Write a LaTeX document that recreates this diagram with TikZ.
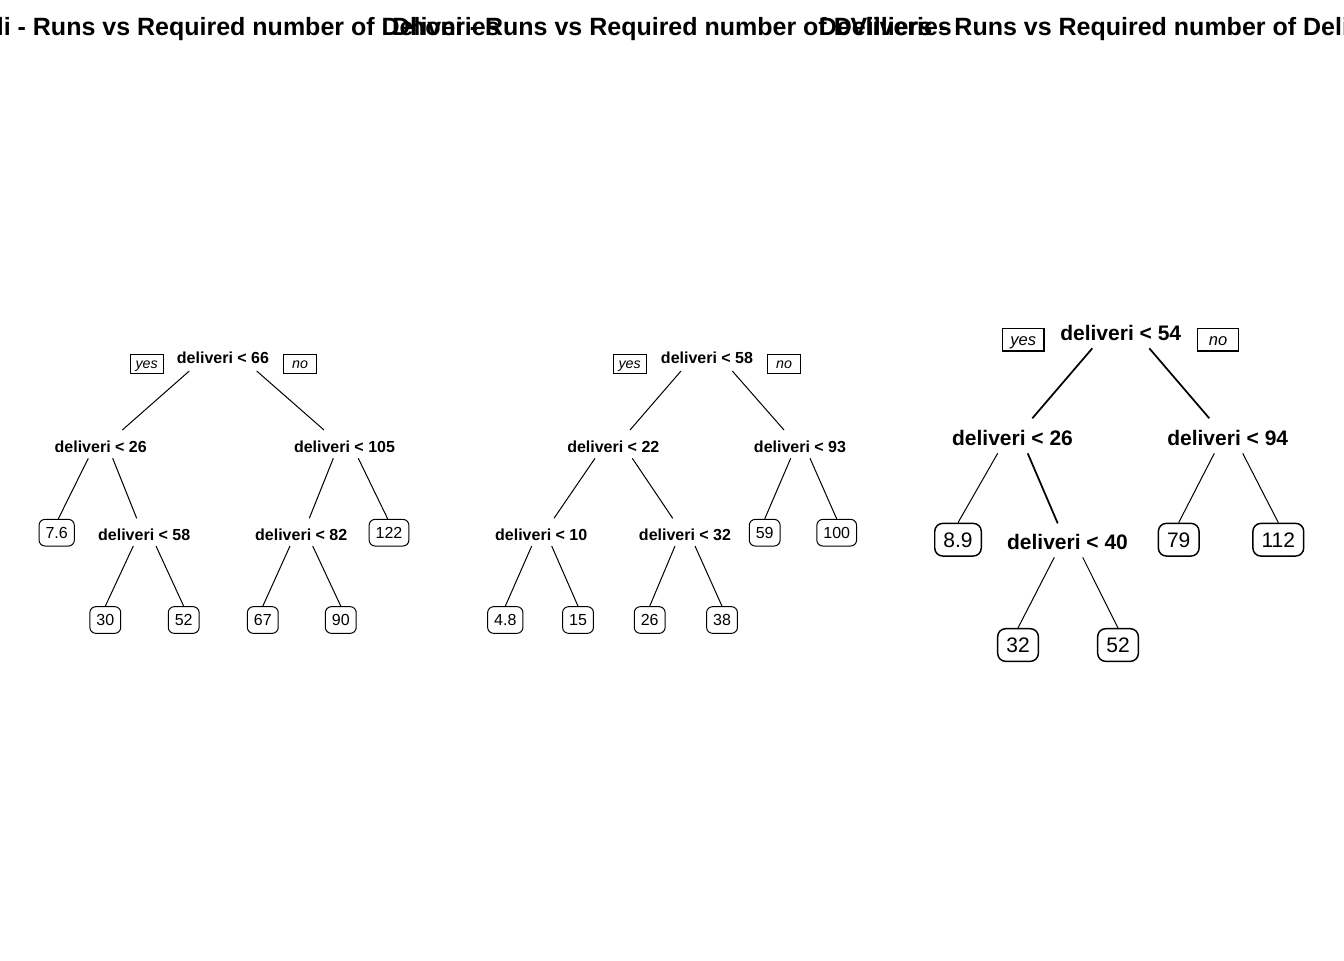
\documentclass[tikz,border=0pt]{standalone}
\usepackage{fontspec}
\setmainfont{Liberation Sans}
\begin{document}
\begin{tikzpicture}[x=0.75pt,y=-0.75pt,
  ttl/.style={font=\fontsize{18.75}{20}\bfseries\selectfont,anchor=base,inner sep=0pt},
  splA/.style={font=\fontsize{12}{14}\bfseries\selectfont,inner sep=0pt,text height=8.6pt,text depth=0pt},
  leafA/.style={draw,line width=0.75pt,rounded corners=4.5pt,font=\fontsize{12}{14}\selectfont,
    inner xsep=4.9pt,inner ysep=0pt,text height=8.6pt,text depth=0pt,minimum height=20pt},
  ynA/.style={draw,line width=0.75pt,font=\fontsize{10.7}{12}\itshape\selectfont,inner sep=0pt,
    text height=7.2pt,text depth=0pt,minimum width=25pt,minimum height=14.25pt},
  splB/.style={font=\fontsize{15.75}{18}\bfseries\selectfont,inner sep=0pt,text height=11.3pt,text depth=0pt},
  leafB/.style={draw,line width=1.1pt,rounded corners=6pt,font=\fontsize{15.75}{18}\selectfont,
    inner xsep=6.5pt,inner ysep=0pt,text height=11.3pt,text depth=0pt,minimum height=24.5pt},
  ynB/.style={draw,line width=1.1pt,font=\fontsize{12.4}{14}\itshape\selectfont,inner sep=0pt,
    text height=8pt,text depth=0pt,minimum width=31pt,minimum height=17pt},
  edA/.style={line width=0.75pt},
  edB/.style={line width=0.75pt},
  edBt/.style={line width=1.3pt}]
\useasboundingbox (0,0) rectangle (1344,960);
\clip (0,0) rectangle (1344,960);
\fill[white] (0,0) rectangle (1344,960);

% titles
\node[ttl] (t1) at (224,35) {Kohli - Runs vs Required number of Deliveries};
\node[ttl] (t2) at (672,35) {Dhoni - Runs vs Required number of Deliveries};
\node[ttl] (t3) at (1120,35) {DeVilliers - Runs vs Required number of Deliveries};

% ---------- Tree 1 ----------
\node[splA] (r1) at (223,358) {deliveri < 66};
\node[ynA] (y1) at (146.7,363.5) {yes};
\node[ynA] (n1) at (300,363.5) {no};
\node[splA] (a1) at (100.7,446.7) {deliveri < 26};
\node[splA] (b1) at (344.5,446.7) {deliveri < 105};
\node[leafA] (c1) at (56.7,532.7) {7.6};
\node[splA] (d1) at (144.2,534.3) {deliveri < 58};
\node[splA] (e1) at (301.2,534.3) {deliveri < 82};
\node[leafA] (f1) at (389,532.7) {122};
\node[leafA] (g1) at (105.3,620) {30};
\node[leafA] (h1) at (183.7,620) {52};
\node[leafA] (i1) at (262.8,620) {67};
\node[leafA] (j1) at (340.8,620) {90};
\draw[edA] ([shift={(-33.7,13)}]r1.center) -- ([shift={(21.6,-16.7)}]a1.center);
\draw[edA] ([shift={(33.7,13)}]r1.center) -- ([shift={(-20.5,-16.7)}]b1.center);
\draw[edA] ([shift={(-12.4,11.6)}]a1.center) -- ([shift={(1.6,0)}]c1.north);
\draw[edA] ([shift={(12,11.6)}]a1.center) -- ([shift={(-7.5,-16)}]d1.center);
\draw[edA] ([shift={(-11.2,11.6)}]b1.center) -- ([shift={(8.1,-16)}]e1.center);
\draw[edA] ([shift={(13.8,11.6)}]b1.center) -- ([shift={(-1.3,0)}]f1.north);
\draw[edA] ([shift={(-10.9,11.7)}]d1.center) -- (g1.north);
\draw[edA] ([shift={(11.8,11.7)}]d1.center) -- (h1.north);
\draw[edA] ([shift={(-11.2,11.7)}]e1.center) -- (i1.north);
\draw[edA] ([shift={(11.5,11.7)}]e1.center) -- (j1.north);

% ---------- Tree 2 ----------
\node[splA] (r2) at (707,358) {deliveri < 58};
\node[ynA] (y2) at (629.7,363.5) {yes};
\node[ynA] (n2) at (784,363.5) {no};
\node[splA] (a2) at (613.3,446.7) {deliveri < 22};
\node[splA] (b2) at (800,446.7) {deliveri < 93};
\node[splA] (c2) at (541.2,534.3) {deliveri < 10};
\node[splA] (d2) at (685,534.3) {deliveri < 32};
\node[leafA] (e2) at (764.7,532.7) {59};
\node[leafA] (f2) at (836.7,532.7) {100};
\node[leafA] (g2) at (505.3,620) {4.8};
\node[leafA] (h2) at (578,620) {15};
\node[leafA] (i2) at (649.7,620) {26};
\node[leafA] (j2) at (722,620) {38};
\draw[edA] ([shift={(-26,13)}]r2.center) -- ([shift={(16.7,-16.7)}]a2.center);
\draw[edA] ([shift={(25.3,13)}]r2.center) -- ([shift={(-16,-16.7)}]b2.center);
\draw[edA] ([shift={(-18.3,11.6)}]a2.center) -- ([shift={(12.8,-16)}]c2.center);
\draw[edA] ([shift={(19,11.6)}]a2.center) -- ([shift={(-12.3,-16)}]d2.center);
\draw[edA] ([shift={(-9.3,11.6)}]b2.center) -- (e2.north);
\draw[edA] ([shift={(10,11.6)}]b2.center) -- (f2.north);
\draw[edA] ([shift={(-9.5,11.7)}]c2.center) -- (g2.north);
\draw[edA] ([shift={(10.5,11.7)}]c2.center) -- (h2.north);
\draw[edA] ([shift={(-10,11.7)}]d2.center) -- (i2.north);
\draw[edA] ([shift={(10,11.7)}]d2.center) -- (j2.north);

% ---------- Tree 3 ----------
\node[splB] (r3) at (1120.7,333.3) {deliveri < 54};
\node[ynB] (y3) at (1023.3,339.7) {yes};
\node[ynB] (n3) at (1218,339.7) {no};
\node[splB] (a3) at (1012.5,437.7) {deliveri < 26};
\node[splB] (b3) at (1227.7,437.7) {deliveri < 94};
\node[leafB] (c3) at (958,539.7) {8.9};
\node[splB] (d3) at (1067.5,541.7) {deliveri < 40};
\node[leafB] (e3) at (1178.7,539.7) {79};
\node[leafB] (f3) at (1278.3,539.7) {112};
\node[leafB] (g3) at (1018,645) {32};
\node[leafB] (h3) at (1118,645) {52};
\draw[edBt] ([shift={(-28.4,15)}]r3.center) -- ([shift={(19.8,-19.4)}]a3.center);
\draw[edBt] ([shift={(28.6,15)}]r3.center) -- ([shift={(-18.4,-19.4)}]b3.center);
\draw[edB] ([shift={(-14.8,15.6)}]a3.center) -- (c3.north);
\draw[edBt] ([shift={(15.2,15.6)}]a3.center) -- ([shift={(-9.8,-18.4)}]d3.center);
\draw[edB] ([shift={(-13.4,15.6)}]b3.center) -- (e3.north);
\draw[edB] ([shift={(15,15.6)}]b3.center) -- (f3.north);
\draw[edB] ([shift={(-13.2,15.6)}]d3.center) -- (g3.north);
\draw[edB] ([shift={(15.2,15.6)}]d3.center) -- (h3.north);
\end{tikzpicture}
\end{document}
